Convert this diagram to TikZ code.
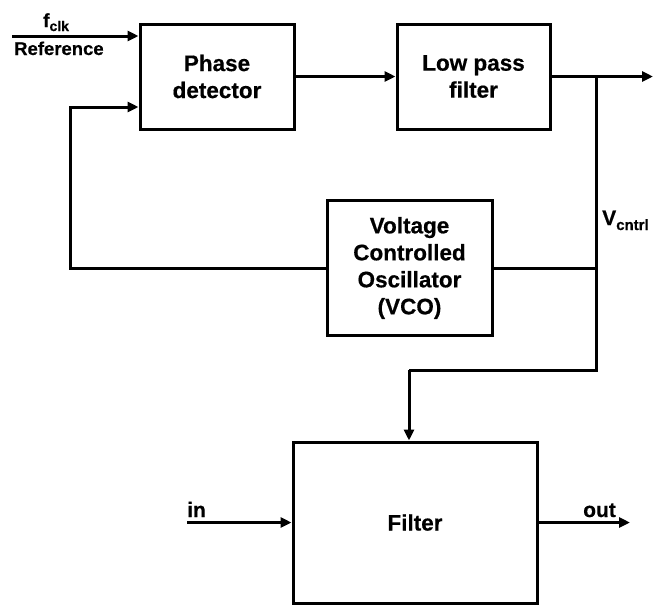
\documentclass[tikz,border=0pt]{standalone}
\usepackage{fontspec}
\setmainfont{Liberation Sans}[BoldFeatures={FakeBold=0.5}]
\usetikzlibrary{arrows.meta}
\begin{document}
\begin{tikzpicture}[x=1pt,y=-1pt,
  blk/.style={draw,line width=3pt,align=center,inner sep=0pt,
    font=\fontsize{22.5}{27}\selectfont\bfseries},
  wire/.style={line width=3pt},
  arr/.style={wire,-{Triangle[length=11pt,width=10pt]}},
  lbl/.style={inner sep=0pt,font=\fontsize{21}{25}\selectfont\bfseries},
  sub/.style={inner sep=0pt,font=\fontsize{18.5}{22}\selectfont\bfseries}]
\useasboundingbox (0,0) rectangle (654,606);
% blocks
\node[blk,minimum width=154pt,minimum height=105pt] (pd) at (217,76.5) {Phase\\detector};
\node[blk,minimum width=153pt,minimum height=105pt] (lpf) at (473.5,76.5) {Low pass\\filter};
\node[blk,minimum width=165pt,minimum height=135pt] (vco) at (409.5,268) {Voltage\\Controlled\\Oscillator\\(VCO)};
\node[blk,minimum width=244pt,minimum height=161pt] (filt) at (415,522.5) {Filter};
% coordinates
\coordinate (refin) at (12,36);
\coordinate (fb) at (70,107);
\coordinate (outtip) at (653,76.5);
\coordinate (j) at (596,76.5);
\coordinate (k) at (596,370);
\coordinate (m) at (409,370);
\coordinate (inpt) at (187,522.5);
\coordinate (outpt) at (630,522.5);
% labels
\node[sub,anchor=base west,font=\fontsize{19}{22}\selectfont\bfseries] (fclk) at (43,27) {f\raisebox{-4pt}{\fontsize{14}{14}\selectfont clk}};
\node[sub,anchor=base west] (refl) at (14,55) {Reference};
\node[sub,anchor=base west,font=\fontsize{21}{25}\selectfont\bfseries] (vc) at (602,225) {V\raisebox{-5pt}{\fontsize{15}{15}\selectfont cntrl}};
\node[lbl,anchor=base west] (inl) at (187,517) {in};
\node[lbl,anchor=base west] (outl) at (583,517) {out};
% connectors
\draw[arr] (refin) -- (refin -| pd.west);
\draw[arr] (vco.west) -| (fb) -- (fb -| pd.west);
\draw[arr] (pd.east) -- (lpf.west);
\draw[arr] (lpf.east) -- (outtip);
\draw[wire] (j) -- (k) -- (m);
\draw[arr] (m) -- (m |- filt.north);
\draw[wire] (vco.east) -- (vco.east -| j);
\draw[arr] (inpt) -- (filt.west);
\draw[arr] (filt.east) -- (outpt);
\end{tikzpicture}
\end{document}
